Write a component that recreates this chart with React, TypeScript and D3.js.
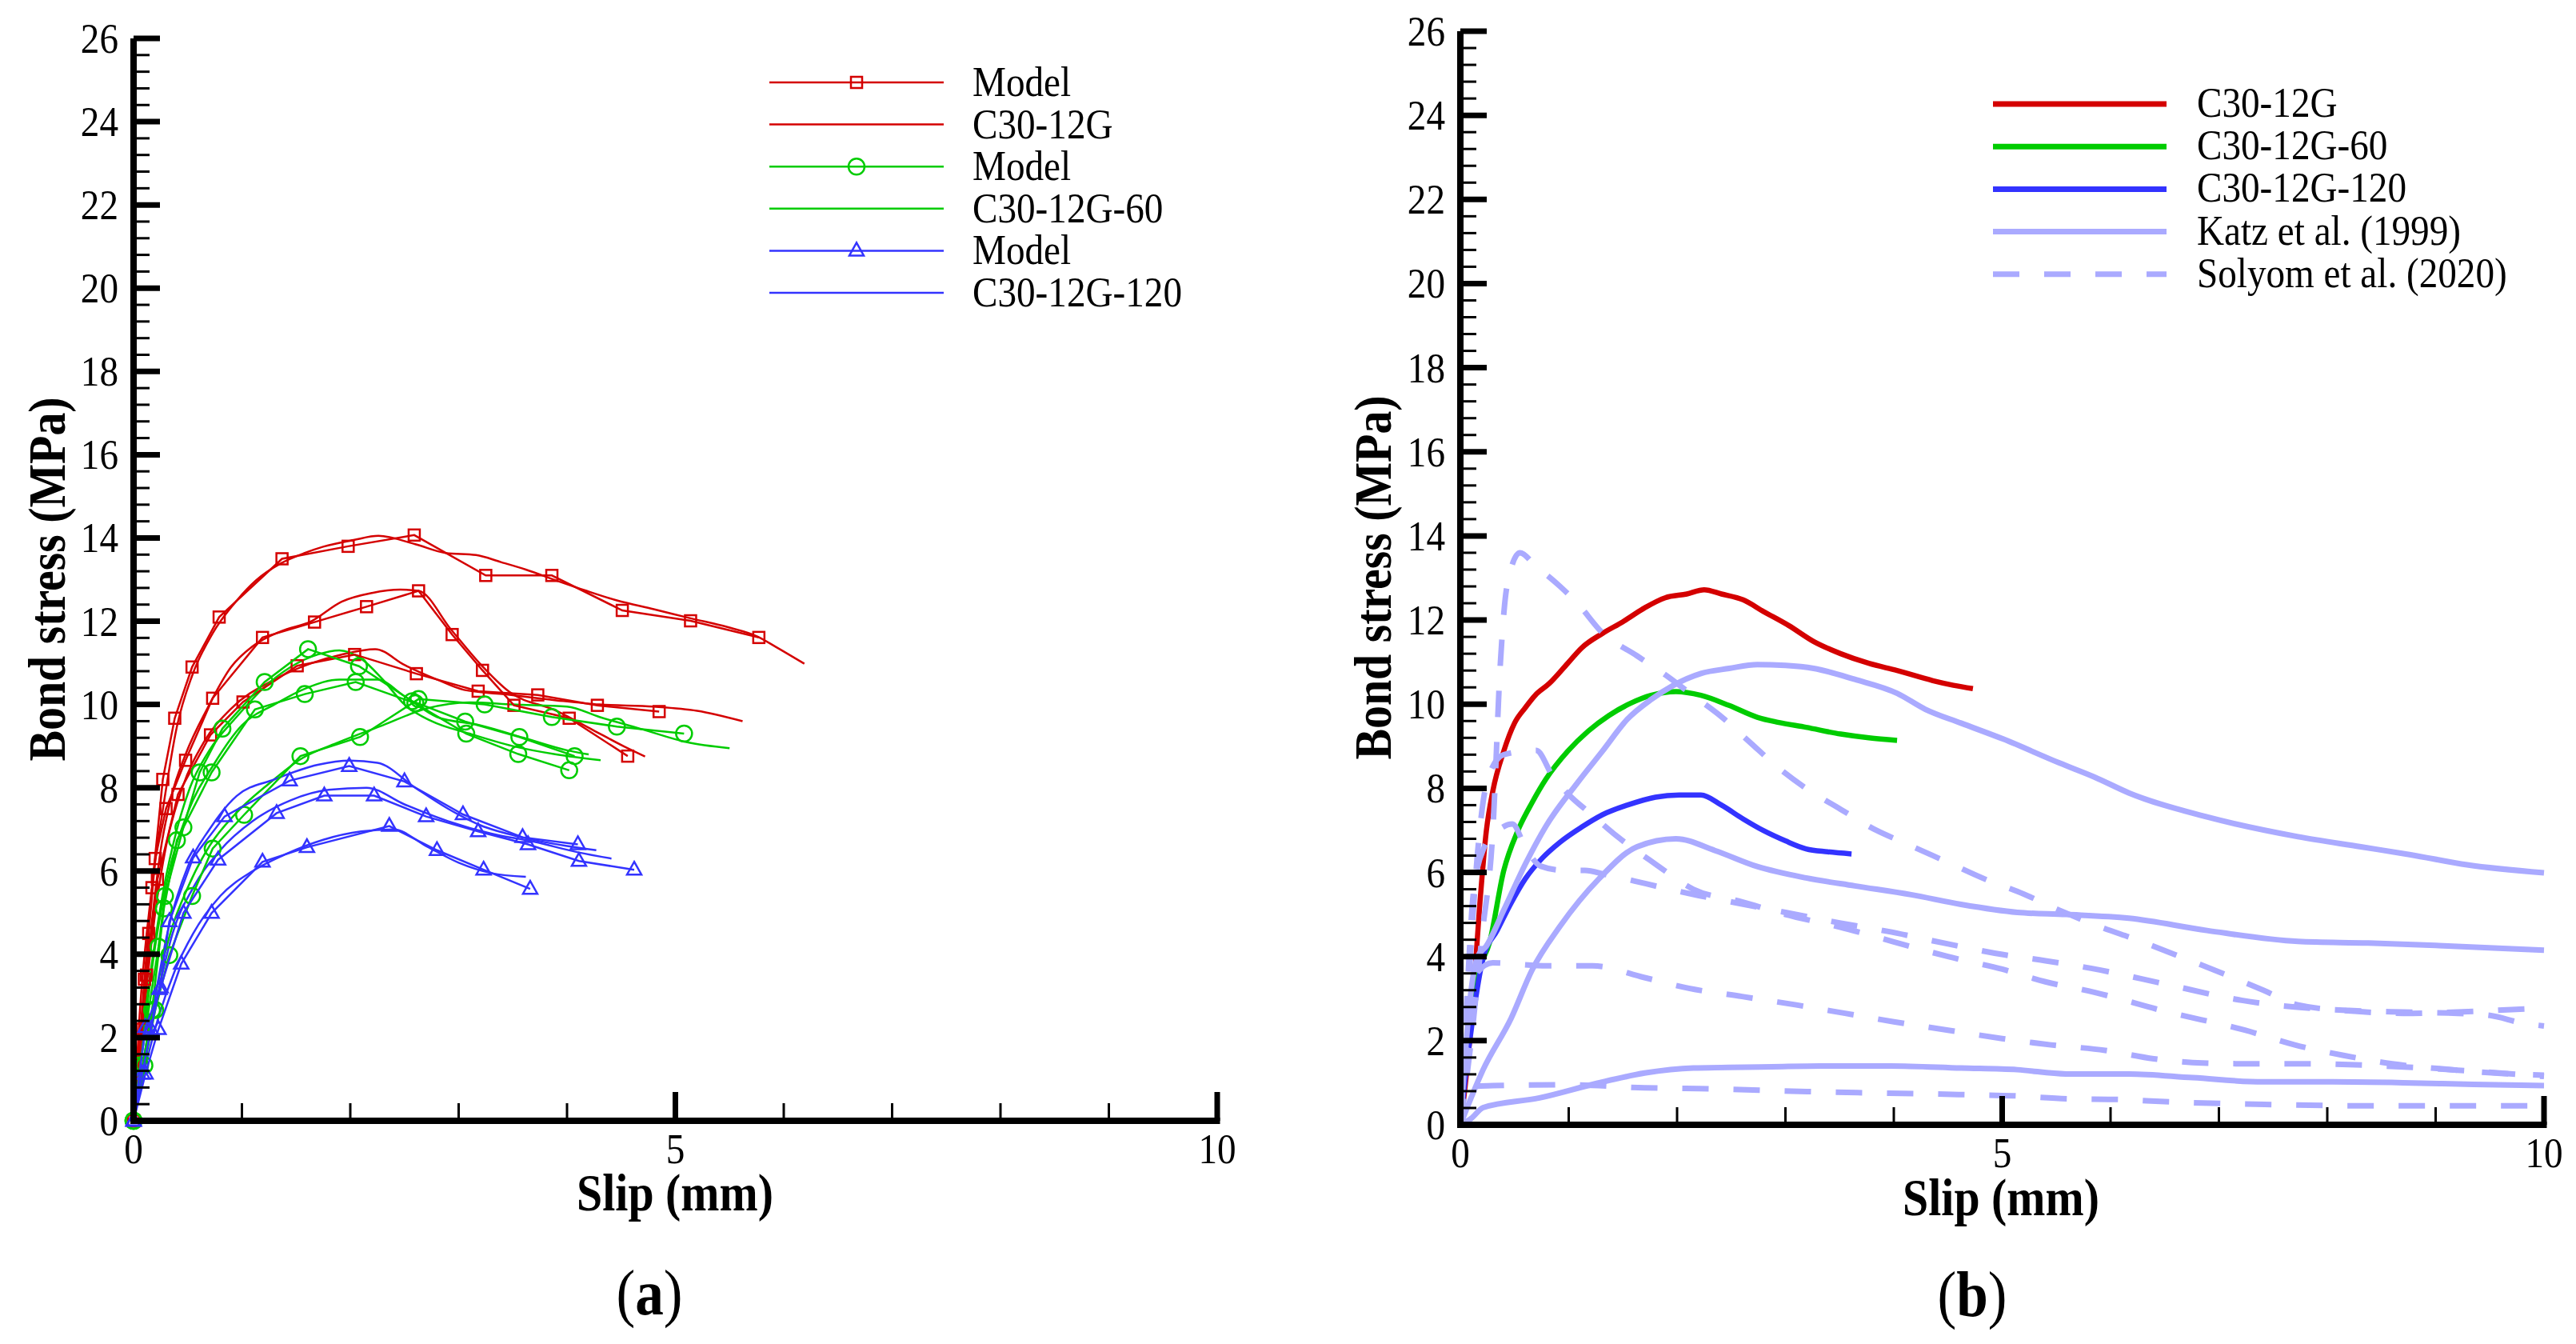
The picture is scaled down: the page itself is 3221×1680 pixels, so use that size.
import * as d3 from 'd3';

type Pt = [number, number];

const FONT = '"Liberation Serif", "Times New Roman", Times, serif';
const RED = '#d40000';
const GREEN = '#00cc00';
const BLUE = '#3333ff';
const LIGHT = '#aaaaff';

// ---------- panel (a): model (markers) and test curves ----------
const redModel1: Pt[] = [[0,0],[0.1,3.4],[0.17,5.6],[0.27,8.2],[0.38,9.67],[0.54,10.9],[0.79,12.1],[1.37,13.5],[1.98,13.8],[2.59,14.07],[3.25,13.1],[3.86,13.1],[4.51,12.26],[5.14,12.01],[5.77,11.61]];
const redModel2: Pt[] = [[0,0],[0.08,2.2],[0.14,4.5],[0.2,6.3],[0.3,7.5],[0.48,8.66],[0.73,10.15],[1.19,11.61],[1.67,11.98],[2.15,12.35],[2.63,12.73],[2.94,11.68],[3.22,10.82],[3.51,9.98],[4.02,9.67],[4.56,8.76]];
const redModel3: Pt[] = [[0,0],[0.12,3.5],[0.22,5.8],[0.41,7.84],[0.71,9.27],[1.01,10.06],[1.51,10.93],[2.04,11.2],[2.61,10.74],[3.18,10.32],[3.73,10.23],[4.28,9.98],[4.85,9.83]];
const redTest1: Pt[] = [[0,0],[0.056,2.55],[0.17,5.61],[0.28,7.64],[0.4,9.47],[0.54,10.69],[0.73,11.71],[0.96,12.52],[1.13,12.98],[1.36,13.39],[1.58,13.64],[1.75,13.79],[2.03,13.95],[2.26,14.05],[2.6,13.85],[2.88,13.64],[3.16,13.59],[3.39,13.42],[3.62,13.24],[3.9,12.98],[4.18,12.73],[4.46,12.5],[4.8,12.29],[5.14,12.07],[5.48,11.86],[5.76,11.63],[5.93,11.38],[6.19,10.98]];
const redTest2: Pt[] = [[0,0],[0.05,1.5],[0.1,3.0],[0.17,4.8],[0.25,6.5],[0.35,7.8],[0.48,8.8],[0.68,9.9],[0.9,10.9],[1.1,11.4],[1.36,11.76],[1.64,12.0],[1.92,12.47],[2.2,12.68],[2.46,12.76],[2.63,12.73],[2.93,11.8],[3.19,11.0],[3.47,10.3],[3.9,9.85],[4.23,9.4],[4.52,9.0],[4.72,8.75]];
const redTest3: Pt[] = [[0,0],[0.06,1.5],[0.12,3.2],[0.2,5.0],[0.3,6.6],[0.45,8.0],[0.65,9.1],[0.9,9.9],[1.3,10.6],[1.65,11.0],[1.92,11.2],[2.23,11.33],[2.5,10.95],[2.8,10.6],[3.05,10.35],[3.4,10.25],[3.9,10.1],[4.3,10.0],[4.8,9.95],[5.2,9.85],[5.62,9.6]];

const greenModel1: Pt[] = [[0,0],[0.06,1.33],[0.23,4.18],[0.29,5.4],[0.46,7.05],[0.61,8.37],[0.82,9.42],[1.21,10.54],[1.61,11.33],[2.08,10.92],[2.57,10.08],[3.06,9.59],[3.56,9.22],[4.07,8.76]];
const greenModel2: Pt[] = [[0,0],[0.17,2.66],[0.28,5.1],[0.4,6.74],[0.72,8.37],[1.12,9.88],[1.58,10.25],[2.05,10.54],[2.6,10.03],[3.07,9.3],[3.55,8.81],[4.02,8.42]];
const greenModel3: Pt[] = [[0,0],[0.1,1.33],[0.2,2.66],[0.33,3.98],[0.54,5.4],[0.73,6.54],[1.02,7.35],[1.54,8.76],[2.09,9.22],[2.63,10.13],[3.24,10.0],[3.86,9.7],[4.46,9.47],[5.08,9.3]];
const greenTest1: Pt[] = [[0,0],[0.08,2.0],[0.17,3.8],[0.28,5.6],[0.4,7.0],[0.52,8.0],[0.7,8.9],[0.95,9.7],[1.2,10.4],[1.45,10.9],[1.7,11.2],[1.9,11.3],[2.1,11.1],[2.3,10.6],[2.5,10.0],[2.75,9.6],[3.1,9.3],[3.5,9.0],[3.9,8.8],[4.31,8.66]];
const greenTest2: Pt[] = [[0,0],[0.1,2.2],[0.2,4.2],[0.32,5.9],[0.5,7.4],[0.75,8.6],[1.0,9.5],[1.3,10.0],[1.6,10.4],[1.9,10.6],[2.25,10.6],[2.5,10.2],[2.8,9.7],[3.2,9.5],[3.6,9.2],[4.0,8.9],[4.2,8.8]];
const greenTest3: Pt[] = [[0,0],[0.1,1.5],[0.2,3.0],[0.35,4.6],[0.5,5.6],[0.7,6.6],[0.95,7.4],[1.25,8.1],[1.55,8.7],[1.9,9.1],[2.3,9.5],[2.7,9.9],[3.1,10.05],[3.5,10.0],[4.0,9.95],[4.3,9.7],[4.7,9.4],[5.1,9.1],[5.5,8.95]];

const blueModel1: Pt[] = [[0,0],[0.08,1.13],[0.16,2.2],[0.24,3.16],[0.33,4.79],[0.55,6.32],[0.84,7.31],[1.44,8.17],[1.99,8.52],[2.5,8.15],[3.04,7.36],[3.59,6.81],[4.1,6.64]];
const blueModel2: Pt[] = [[0,0],[0.11,2.25],[0.25,3.2],[0.46,4.99],[0.78,6.27],[1.32,7.39],[1.76,7.81],[2.22,7.81],[2.7,7.31],[3.18,6.95],[3.64,6.64],[4.11,6.24],[4.62,6.03]];
const blueModel3: Pt[] = [[0,0],[0.11,1.13],[0.23,2.2],[0.44,3.77],[0.72,4.99],[1.19,6.22],[1.6,6.57],[2.36,7.08],[2.8,6.5],[3.23,6.03],[3.66,5.57]];
const blueTest1: Pt[] = [[0,0],[0.1,1.6],[0.2,3.0],[0.32,4.6],[0.5,6.1],[0.7,7.0],[0.95,7.8],[1.3,8.2],[1.7,8.55],[2.0,8.65],[2.25,8.6],[2.6,8.0],[2.9,7.5],[3.2,7.1],[3.6,6.8],[4.0,6.6],[4.27,6.5]];
const blueTest2: Pt[] = [[0,0],[0.1,1.5],[0.22,3.0],[0.36,4.5],[0.55,5.6],[0.8,6.5],[1.1,7.2],[1.45,7.7],[1.8,7.95],[2.15,8.0],[2.5,7.6],[2.9,7.2],[3.3,6.9],[3.7,6.7],[4.1,6.45],[4.41,6.3]];
const blueTest3: Pt[] = [[0,0],[0.1,1.2],[0.22,2.4],[0.38,3.6],[0.55,4.5],[0.8,5.4],[1.1,6.0],[1.4,6.4],[1.75,6.75],[2.1,6.95],[2.4,7.0],[2.7,6.6],[3.0,6.2],[3.3,5.95],[3.62,5.86]];

// ---------- panel (b) ----------
const c30: Pt[] = [[0,0],[0.045,0.93],[0.11,2.73],[0.175,5.09],[0.24,6.99],[0.3,7.94],[0.4,8.88],[0.5,9.55],[0.6,9.92],[0.69,10.21],[0.82,10.49],[0.99,10.97],[1.12,11.34],[1.31,11.68],[1.5,11.96],[1.7,12.29],[1.89,12.53],[2.09,12.62],[2.25,12.72],[2.41,12.62],[2.61,12.48],[2.8,12.2],[3.03,11.87],[3.26,11.49],[3.51,11.2],[3.77,10.97],[4.03,10.8],[4.36,10.56],[4.55,10.45],[4.73,10.37]];
const c30_60: Pt[] = [[0,0],[0.08,2.25],[0.175,3.67],[0.27,4.34],[0.4,6.04],[0.53,6.99],[0.66,7.65],[0.79,8.22],[0.99,8.88],[1.18,9.36],[1.37,9.73],[1.57,10.02],[1.76,10.21],[1.99,10.3],[2.22,10.21],[2.48,9.97],[2.74,9.69],[2.93,9.57],[3.19,9.45],[3.51,9.29],[3.77,9.2],[4.03,9.14]];
const c30_120: Pt[] = [[0,0],[0.045,1.12],[0.11,2.44],[0.21,3.96],[0.34,4.62],[0.47,5.28],[0.6,5.85],[0.76,6.35],[0.92,6.72],[1.12,7.08],[1.31,7.37],[1.54,7.6],[1.8,7.79],[2.02,7.84],[2.22,7.84],[2.41,7.6],[2.61,7.27],[2.8,6.99],[3.0,6.75],[3.19,6.56],[3.39,6.49],[3.61,6.44]];

const katz1: Pt[] = [[0,0],[0.04,1.5],[0.1,3.2],[0.16,4.0],[0.24,4.25],[0.4,5.1],[0.6,6.2],[0.79,7.1],[1.08,8.13],[1.31,8.88],[1.54,9.64],[1.76,10.11],[1.96,10.44],[2.22,10.73],[2.48,10.85],[2.74,10.94],[3.0,10.92],[3.26,10.85],[3.64,10.59],[4.03,10.26],[4.29,9.88],[4.62,9.55],[5.01,9.17],[5.53,8.6],[5.85,8.27],[6.17,7.89],[6.89,7.32],[7.73,6.85],[8.31,6.61],[8.77,6.42],[9.29,6.18],[10,5.99]];
const katz2: Pt[] = [[0,0],[0.21,1.31],[0.47,2.54],[0.66,3.67],[0.92,4.72],[1.28,5.85],[1.63,6.61],[1.99,6.8],[2.35,6.52],[2.74,6.14],[3.19,5.87],[3.64,5.68],[4.16,5.47],[4.62,5.24],[5.14,5.05],[5.59,5.0],[6.17,4.91],[6.89,4.62],[7.73,4.36],[8.38,4.32],[9.03,4.26],[10,4.15]];
const katz3: Pt[] = [[0,0],[0.1,0.15],[0.21,0.41],[0.73,0.64],[1.25,0.98],[1.7,1.23],[2.15,1.35],[2.87,1.38],[3.32,1.4],[3.97,1.4],[4.62,1.35],[5.14,1.31],[5.59,1.21],[6.17,1.21],[6.76,1.12],[7.41,1.02],[8.05,1.02],[8.7,1.0],[9.35,0.96],[10,0.93]];

const solyom1: Pt[] = [[0,0],[0.1,2],[0.2,4.5],[0.3,7],[0.37,11],[0.43,12.8],[0.55,13.6],[0.69,13.3],[0.92,12.8],[1.08,12.4],[1.31,11.7],[1.63,11.15],[1.89,10.7],[2.15,10.2],[2.41,9.7],[2.67,9.1],[2.93,8.5],[3.19,8.0],[3.51,7.5],[3.84,7.0],[4.1,6.7],[4.49,6.25],[4.88,5.8],[5.14,5.55],[5.53,5.1],[5.91,4.7],[6.24,4.4],[6.69,3.95],[7.08,3.55],[7.41,3.2],[7.73,2.85],[8.25,2.7],[8.7,2.65],[9.2,2.68],[9.7,2.74],[10,2.77]];
const solyom2: Pt[] = [[0,0],[0.08,3.5],[0.16,6.5],[0.25,8.2],[0.4,8.8],[0.7,8.9],[0.85,8.3],[1.0,7.85],[1.2,7.4],[1.45,6.85],[1.8,6.2],[2.15,5.6],[2.6,5.3],[3.0,5.0],[3.5,4.7],[4.0,4.35],[4.5,4.0],[5.0,3.7],[5.4,3.4],[5.85,3.15],[6.5,2.7],[7.24,2.25],[7.7,1.9],[8.15,1.65],[8.6,1.45],[9.1,1.32],[9.6,1.22],[10,1.18]];
const solyom3: Pt[] = [[0,0],[0.06,3],[0.12,5.5],[0.22,6.6],[0.35,7.0],[0.48,7.15],[0.6,6.6],[0.74,6.15],[0.95,6.05],[1.15,6.05],[1.34,5.95],[1.6,5.8],[1.83,5.66],[2.2,5.45],[2.6,5.25],[3.0,5.05],[3.5,4.8],[3.94,4.6],[4.5,4.3],[5.0,4.05],[5.4,3.9],[5.82,3.72],[6.5,3.35],[7.21,2.96],[7.7,2.8],[8.2,2.72],[8.7,2.68],[9.2,2.65],[9.5,2.6],[9.8,2.42],[10,2.35]];
const solyom4: Pt[] = [[0,0],[0.08,2.5],[0.15,3.6],[0.3,3.85],[0.8,3.78],[1.22,3.78],[1.7,3.5],[2.1,3.25],[2.6,3.05],[3.1,2.85],[3.55,2.65],[4.0,2.45],[4.5,2.25],[5.0,2.05],[5.45,1.9],[5.95,1.77],[6.4,1.57],[6.85,1.47],[7.3,1.45],[7.85,1.45],[8.5,1.4],[9.2,1.3],[10,1.15]];
const solyom5: Pt[] = [[0,0],[0.04,0.9],[0.3,0.93],[1.0,0.95],[1.7,0.88],[2.2,0.86],[3.2,0.79],[4.6,0.72],[5.1,0.69],[5.6,0.62],[6.1,0.6],[6.5,0.55],[7.5,0.48],[8.5,0.45],[10,0.45]];

const yTicks = d3.range(0, 27, 2);
const xTicks = [0, 5, 10];
const legendA = ['Model', 'C30-12G', 'Model', 'C30-12G-60', 'Model', 'C30-12G-120'];
const legendB = ['C30-12G', 'C30-12G-60', 'C30-12G-120', 'Katz et al. (1999)', 'Solyom et al. (2020)'];

const SX = 0.89; // reference type is a little narrower than Times

function Txt({ x, y, size, anchor = 'middle', weight = 'normal', rotate = 0, children }: any) {
  return (
    <text
      transform={`translate(${x},${y}) rotate(${rotate}) scale(${SX},1)`}
      fontSize={size}
      fontFamily={FONT}
      fontWeight={weight}
      textAnchor={anchor}
      fill="#000"
    >
      {children}
    </text>
  );
}

function Axes({ xs, ys }: { xs: d3.ScaleLinear<number, number>; ys: d3.ScaleLinear<number, number> }) {
  const x0 = xs(0), y0 = ys(0);
  const minorY = d3.range(1, 65).filter(i => i % 5 !== 0).map(i => i * 0.4);
  const minorX = d3.range(1, 10).filter(i => i !== 5);
  return (
    <g>
      {minorY.map(v => (
        <line key={'my' + v} x1={x0} x2={x0 + 20} y1={ys(v)} y2={ys(v)} stroke="#000" strokeWidth={3} />
      ))}
      {yTicks.map(v => (
        <line key={'My' + v} x1={x0} x2={x0 + 33} y1={ys(v)} y2={ys(v)} stroke="#000" strokeWidth={7} />
      ))}
      {minorX.map(v => (
        <line key={'mx' + v} x1={xs(v)} x2={xs(v)} y1={y0} y2={y0 - 22} stroke="#000" strokeWidth={3} />
      ))}
      {xTicks.map(v => (
        <line key={'Mx' + v} x1={xs(v)} x2={xs(v)} y1={y0} y2={y0 - 36} stroke="#000" strokeWidth={7} />
      ))}
      <line x1={x0} x2={x0} y1={y0 + 4} y2={ys(26)} stroke="#000" strokeWidth={8} />
      <line x1={x0 - 4} x2={xs(10) + 3.5} y1={y0} y2={y0} stroke="#000" strokeWidth={8} />
      {yTicks.map(v => (
        <Txt key={'ly' + v} x={x0 - 19} y={ys(v) + 18} size={53} anchor="end">{v}</Txt>
      ))}
      {xTicks.map(v => (
        <Txt key={'lx' + v} x={xs(v)} y={y0 + 53} size={53}>{v}</Txt>
      ))}
    </g>
  );
}

function Marker({ kind, x, y, color }: { kind: string; x: number; y: number; color: string }) {
  if (kind === 'square') return <rect x={x - 7} y={y - 7} width={14} height={14} fill="none" stroke={color} strokeWidth={2.5} />;
  if (kind === 'circle') return <circle cx={x} cy={y} r={10} fill="none" stroke={color} strokeWidth={2.5} />;
  return <path d={`M${x},${y - 10}L${x + 9},${y + 6}L${x - 9},${y + 6}Z`} fill="none" stroke={color} strokeWidth={2.5} />;
}

export default function App() {
  const xA = d3.scaleLinear().domain([0, 10]).range([167, 1522]);
  const yA = d3.scaleLinear().domain([0, 26]).range([1401, 48]);
  const xB = d3.scaleLinear().domain([0, 10]).range([1826, 3181]);
  const yB = d3.scaleLinear().domain([0, 26]).range([1406, 39]);

  const lineA = d3.line<Pt>().x(d => xA(d[0])).y(d => yA(d[1]));
  const smoothA = d3.line<Pt>().x(d => xA(d[0])).y(d => yA(d[1])).curve(d3.curveMonotoneX);
  const lineB = d3.line<Pt>().x(d => xB(d[0])).y(d => yB(d[1])).curve(d3.curveMonotoneX);

  const models = [
    { data: redModel1, color: RED, kind: 'square' },
    { data: redModel2, color: RED, kind: 'square' },
    { data: redModel3, color: RED, kind: 'square' },
    { data: greenModel1, color: GREEN, kind: 'circle' },
    { data: greenModel2, color: GREEN, kind: 'circle' },
    { data: greenModel3, color: GREEN, kind: 'circle' },
    { data: blueModel1, color: BLUE, kind: 'triangle' },
    { data: blueModel2, color: BLUE, kind: 'triangle' },
    { data: blueModel3, color: BLUE, kind: 'triangle' },
  ];
  const tests = [
    { data: redTest1, color: RED }, { data: redTest2, color: RED }, { data: redTest3, color: RED },
    { data: greenTest1, color: GREEN }, { data: greenTest2, color: GREEN }, { data: greenTest3, color: GREEN },
    { data: blueTest1, color: BLUE }, { data: blueTest2, color: BLUE }, { data: blueTest3, color: BLUE },
  ];

  const legendAColors = [RED, RED, GREEN, GREEN, BLUE, BLUE];
  const legendAMarks = ['square', '', 'circle', '', 'triangle', ''];
  const legendBColors = [RED, GREEN, BLUE, LIGHT, LIGHT];

  const bMain = [
    { data: c30, color: RED },
    { data: c30_60, color: GREEN },
    { data: c30_120, color: BLUE },
  ];
  const katz = [katz1, katz2, katz3];
  const solyom = [solyom1, solyom2, solyom3, solyom4, solyom5];

  return (
    <svg
      width={3221}
      height={1680}
      viewBox="0 0 3221 1680"
      style={{ position: 'absolute', left: 0, top: 0, background: '#fff' }}
    >
      <rect width={3221} height={1680} fill="#fff" />

      {/* panel (a) */}
      <g>
        {tests.map((t, i) => (
          <path key={'t' + i} d={smoothA(t.data) || ''} fill="none" stroke={t.color} strokeWidth={2.5} />
        ))}
        {models.map((m, i) => (
          <g key={'m' + i}>
            <path d={lineA(m.data) || ''} fill="none" stroke={m.color} strokeWidth={2.5} />
            {m.data.map((d, j) => (
              <Marker key={j} kind={m.kind} x={xA(d[0])} y={yA(d[1])} color={m.color} />
            ))}
          </g>
        ))}
        <Axes xs={xA} ys={yA} />
        {legendA.map((name, i) => {
          const ly = 103 + i * 52.6;
          return (
            <g key={'la' + i}>
              <line x1={962} x2={1180} y1={ly} y2={ly} stroke={legendAColors[i]} strokeWidth={2.5} />
              {legendAMarks[i] && <Marker kind={legendAMarks[i]} x={1071} y={ly} color={legendAColors[i]} />}
              <Txt x={1216} y={ly + 17} size={53} anchor="start">{name}</Txt>
            </g>
          );
        })}
        <Txt x={81} y={724} size={65} weight="bold" rotate={-90}>Bond stress (MPa)</Txt>
        <Txt x={844} y={1513} size={65} weight="bold">Slip (mm)</Txt>
        <Txt x={812} y={1643} size={80}>
          (<tspan fontWeight="bold">a</tspan>)
        </Txt>
      </g>

      {/* panel (b) */}
      <g>
        {bMain.map((c, i) => (
          <path key={'b' + i} d={lineB(c.data) || ''} fill="none" stroke={c.color} strokeWidth={6.5} strokeLinejoin="round" />
        ))}
        {katz.map((k, i) => (
          <path key={'k' + i} d={lineB(k) || ''} fill="none" stroke={LIGHT} strokeWidth={7} strokeLinejoin="round" />
        ))}
        {solyom.map((s, i) => (
          <path key={'s' + i} d={lineB(s) || ''} fill="none" stroke={LIGHT} strokeWidth={7} strokeDasharray="33 31" />
        ))}
        <Axes xs={xB} ys={yB} />
        {legendB.map((name, i) => {
          const ly = 130 + i * 53.2;
          return (
            <g key={'lb' + i}>
              <line
                x1={2492}
                x2={2709}
                y1={ly}
                y2={ly}
                stroke={legendBColors[i]}
                strokeWidth={7}
                strokeDasharray={i === 4 ? '33 31' : undefined}
              />
              <Txt x={2747} y={ly + 16} size={53} anchor="start">{name}</Txt>
            </g>
          );
        })}
        <Txt x={1739} y={722} size={65} weight="bold" rotate={-90}>Bond stress (MPa)</Txt>
        <Txt x={2502} y={1519} size={65} weight="bold">Slip (mm)</Txt>
        <Txt x={2466} y={1645} size={80}>
          (<tspan fontWeight="bold">b</tspan>)
        </Txt>
      </g>
    </svg>
  );
}
